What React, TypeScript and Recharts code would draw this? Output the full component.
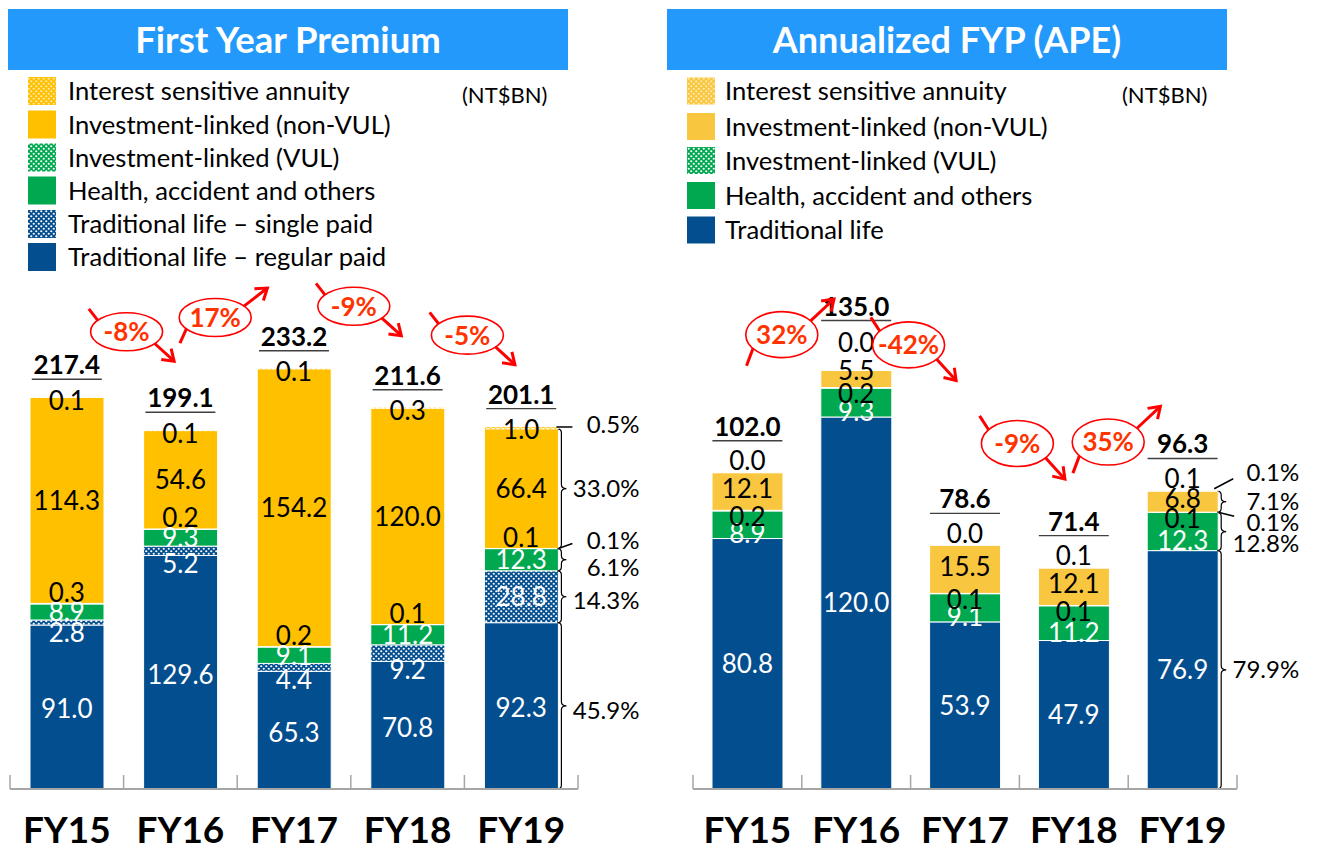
import React from 'react';
import { ComposedChart, Bar, Line, XAxis, YAxis } from 'recharts';

const FONT = "Lato, 'Open Sans', 'DejaVu Sans', sans-serif";
const BLUE = '#034E8E';
const GREEN = '#00A84F';
const YELLOW_L = '#FFC000';
const YELLOW_R = '#F9C640';

// ---------- data ----------
const years = ['FY15', 'FY16', 'FY17', 'FY18', 'FY19'];

// First Year Premium (NT$BN), bottom -> top of the stack
const fypRegular = [91.0, 129.6, 65.3, 70.8, 92.3];
const fypSingle = [2.8, 5.2, 4.4, 9.2, 28.8];
const fypHealth = [8.9, 9.3, 9.1, 11.2, 12.3];
const fypVul = [0.3, 0.2, 0.2, 0.1, 0.1];
const fypNonVul = [114.3, 54.6, 154.2, 120.0, 66.4];
const fypAnnuity = [0.1, 0.1, 0.1, 0.3, 1.0];
const fypTotals = [217.4, 199.1, 233.2, 211.6, 201.1];
const fypGrowth = [-8, 17, -9, -5];
const fypShareFY19 = [45.9, 14.3, 6.1, 0.1, 33.0, 0.5];

// Annualized FYP (APE)
const apeTraditional = [80.8, 120.0, 53.9, 47.9, 76.9];
const apeHealth = [8.9, 9.3, 9.1, 11.2, 12.3];
const apeVul = [0.2, 0.2, 0.1, 0.1, 0.1];
const apeNonVul = [12.1, 5.5, 15.5, 12.1, 6.8];
const apeAnnuity = [0.0, 0.0, 0.0, 0.1, 0.1];
const apeTotals = [102.0, 135.0, 78.6, 71.4, 96.3];
const apeGrowth = [32, -42, -9, 35];
const apeShareFY19 = [79.9, 12.8, 0.1, 7.1, 0.1];

const fypLegendNames = [
  'Interest sensitive annuity',
  'Investment-linked (non-VUL)',
  'Investment-linked (VUL)',
  'Health, accident and others',
  'Traditional life – single paid',
  'Traditional life – regular paid',
];
const apeLegendNames = [
  'Interest sensitive annuity',
  'Investment-linked (non-VUL)',
  'Investment-linked (VUL)',
  'Health, accident and others',
  'Traditional life',
];

// ---------- style configs ----------
type At = 'center' | 'top' | 'bottom';
type Rule = { at: At; dy: number };
type SeriesCfg = {
  values: number[];
  fill: string;
  dash?: string;
  labelColor: string;
  label: Rule;
  small?: { max: number } & Rule;
  crowded?: Rule;
  bracket: { kind: 'brace' | 'tick'; at: At; dy: number; tick?: number[] };
};

function Patterns({ p, yellow }: { p: string; yellow: string }) {
  return (
    <defs>
      <pattern id={p + 'blue'} width="5" height="5" patternUnits="userSpaceOnUse">
        <rect width="5" height="5" fill={BLUE} />
        <circle cx="1.25" cy="1.25" r="1.1" fill="#fff" />
        <circle cx="3.75" cy="3.75" r="1.1" fill="#fff" />
      </pattern>
      <pattern id={p + 'green'} width="5" height="5" patternUnits="userSpaceOnUse">
        <rect width="5" height="5" fill={GREEN} />
        <circle cx="1.25" cy="1.25" r="1.1" fill="#fff" />
        <circle cx="3.75" cy="3.75" r="1.1" fill="#fff" />
      </pattern>
      <pattern id={p + 'yellow'} width="5" height="5" patternUnits="userSpaceOnUse">
        <rect width="5" height="5" fill={yellow} />
        <circle cx="1.25" cy="1.25" r="1.1" fill="#FFE9A8" />
        <circle cx="3.75" cy="3.75" r="1.1" fill="#FFE9A8" />
      </pattern>
    </defs>
  );
}

const fypSeries: SeriesCfg[] = [
  { values: fypRegular, fill: BLUE, labelColor: '#fff', label: { at: 'center', dy: 2 }, bracket: { kind: 'brace', at: 'center', dy: 5 } },
  { values: fypSingle, fill: 'url(#fblue)', labelColor: '#fff', label: { at: 'center', dy: 0 }, small: { max: 15, at: 'bottom', dy: 8 }, bracket: { kind: 'brace', at: 'center', dy: 4 } },
  { values: fypHealth, fill: GREEN, labelColor: '#fff', label: { at: 'center', dy: 0 }, bracket: { kind: 'brace', at: 'bottom', dy: -3 } },
  { values: fypVul, fill: 'url(#fgreen)', labelColor: '#000', label: { at: 'top', dy: -11 }, bracket: { kind: 'tick', at: 'top', dy: -8, tick: [0, 0, 14, -5] } },
  { values: fypNonVul, fill: YELLOW_L, labelColor: '#000', label: { at: 'center', dy: 0 }, bracket: { kind: 'brace', at: 'center', dy: 0 } },
  { values: fypAnnuity, fill: 'url(#fyellow)', dash: '3 2', labelColor: '#000', label: { at: 'top', dy: 3 }, bracket: { kind: 'tick', at: 'top', dy: -3, tick: [-2, 0, 14, 0] } },
];

const apeSeries: SeriesCfg[] = [
  { values: apeTraditional, fill: BLUE, labelColor: '#fff', label: { at: 'center', dy: 0 }, bracket: { kind: 'brace', at: 'center', dy: 0 } },
  { values: apeHealth, fill: GREEN, labelColor: '#fff', label: { at: 'center', dy: 9 }, bracket: { kind: 'brace', at: 'center', dy: 12 } },
  { values: apeVul, fill: 'url(#agreen)', labelColor: '#000', label: { at: 'top', dy: 6 }, bracket: { kind: 'tick', at: 'top', dy: 10, tick: [0, 0, 16, 4] } },
  { values: apeNonVul, fill: YELLOW_R, labelColor: '#000', label: { at: 'center', dy: -3 }, crowded: { at: 'top', dy: 0 }, bracket: { kind: 'brace', at: 'center', dy: 0 } },
  { values: apeAnnuity, fill: 'url(#ayellow)', labelColor: '#000', label: { at: 'top', dy: -12 }, crowded: { at: 'top', dy: -28 }, bracket: { kind: 'tick', at: 'top', dy: -18, tick: [-4, -2, 15, -12] } },
];

type Panel = {
  p: string;
  yellow: string;
  left: number;
  width: number;
  height: number;
  margin: { top: number; right: number; bottom: number; left: number };
  domainMax: number;
  barSize: number;
  series: SeriesCfg[];
  totals: number[];
  growth: number[];
  shares: number[];
  totalGap: number;
  crowd?: { series: number; max: number; totalGap: number };
  bubble: { dxPos: number; dxNeg: number; dy: number; signShift: number; rx: number; ry: number };
};

const fypPanel: Panel = {
  p: 'f', yellow: YELLOW_L, left: 0, width: 660, height: 850,
  margin: { top: 338.5, right: 82, bottom: 11, left: 10 },
  domainMax: 250, barSize: 74,
  series: fypSeries, totals: fypTotals, growth: fypGrowth, shares: fypShareFY19,
  totalGap: 18,
  bubble: { dxPos: -22, dxNeg: 3, dy: -82, signShift: 0, rx: 36, ry: 19 },
};

const apePanel: Panel = {
  p: 'a', yellow: YELLOW_R, left: 660, width: 660, height: 850,
  margin: { top: 324, right: 83, bottom: 11, left: 33 },
  domainMax: 150, barSize: 71,
  series: apeSeries, totals: apeTotals, growth: apeGrowth, shares: apeShareFY19,
  totalGap: 32,
  crowd: { series: 3, max: 6, totalGap: 50 },
  bubble: { dxPos: -20, dxNeg: -2, dy: -100, signShift: 13, rx: 36, ry: 23 },
};

// ---------- helpers ----------
const VAL_FS = 26;
const PCT_FS = 24;

function pickLabel(s: SeriesCfg, v: number, crowded: boolean): Rule {
  if (crowded && s.crowded) return s.crowded;
  if (s.small && v < s.small.max) return s.small;
  return s.label;
}

function anchorOf(at: At, c: number, v: number) {
  if (at === 'center') return c + v / 2;
  if (at === 'top') return c + v;
  return c;
}

function Bubble({ x, y, g, rx, ry }: { x: number; y: number; g: number; rx: number; ry: number }) {
  const red = '#FF0000';
  const neg = g < 0;
  let t1: number[], t2: number[], a1: number[], a2: number[];
  if (neg) {
    t1 = [x - rx * 1.05, y - ry * 1.2];
    t2 = [x - rx * 0.8, y - ry * 0.6];
    a1 = [x + rx * 0.78, y + ry * 0.62];
    a2 = [x + rx * 1.32, y + ry * 1.55];
  } else {
    t1 = [x - rx * 0.98, y + ry * 1.35];
    t2 = [x - rx * 0.8, y + ry * 0.6];
    a1 = [x + rx * 0.8, y - ry * 0.6];
    a2 = [x + rx * 1.45, y - ry * 1.55];
  }
  const dx = a2[0] - a1[0];
  const dy = a2[1] - a1[1];
  const L = Math.hypot(dx, dy);
  const ux = dx / L;
  const uy = dy / L;
  const hl = 13;
  const ang = 0.6;
  const rot = (a: number) => [
    a2[0] - hl * (ux * Math.cos(a) - uy * Math.sin(a)),
    a2[1] - hl * (ux * Math.sin(a) + uy * Math.cos(a)),
  ];
  const h1 = rot(ang);
  const h2 = rot(-ang);
  return (
    <g>
      <line x1={t1[0]} y1={t1[1]} x2={t2[0]} y2={t2[1]} stroke={red} strokeWidth={3} />
      <line x1={a1[0]} y1={a1[1]} x2={a2[0]} y2={a2[1]} stroke={red} strokeWidth={3} />
      <polyline points={`${h1[0]},${h1[1]} ${a2[0]},${a2[1]} ${h2[0]},${h2[1]}`} fill="none" stroke={red} strokeWidth={3} />
      <ellipse cx={x} cy={y} rx={rx} ry={ry} fill="#fff" stroke={red} strokeWidth={1.6} />
      <text x={x} y={y + 0.36 * 26} textAnchor="middle" fill="#FF3300" fontFamily={FONT} fontWeight={700} fontSize={26}>
        {`${g}%`}
      </text>
    </g>
  );
}

function bracketEl(s: SeriesCfg, x: number, y: number, w: number, h: number, share: number) {
  const xr = x + w;
  const top = y;
  const bot = y + h;
  const mid = (top + bot) / 2;
  const b = s.bracket;
  const ty = (b.at === 'center' ? mid : b.at === 'top' ? top : bot) + b.dy;
  let mark: React.ReactNode = null;
  if (b.kind === 'brace') {
    const r = Math.min(4, h / 4);
    const d = `M ${xr - 1} ${top} Q ${xr + 3} ${top} ${xr + 3} ${top + r} L ${xr + 3} ${mid - r} Q ${xr + 3} ${mid} ${xr + 8} ${mid} Q ${xr + 3} ${mid} ${xr + 3} ${mid + r} L ${xr + 3} ${bot - r} Q ${xr + 3} ${bot} ${xr - 1} ${bot}`;
    mark = <path d={d} fill="none" stroke="#000" strokeWidth={1.2} />;
  } else if (b.tick) {
    const t = b.tick;
    mark = <line x1={xr + t[0]} y1={top + t[1]} x2={xr + t[2]} y2={top + t[3]} stroke="#000" strokeWidth={1.5} />;
  }
  return (
    <g>
      {mark}
      <text x={xr + 81} y={ty + 0.36 * PCT_FS} textAnchor="end" fontFamily={FONT} fontSize={PCT_FS} fill="#000">
        {`${share.toFixed(1)}%`}
      </text>
    </g>
  );
}

function PanelChart({ panel }: { panel: Panel }) {
  const n = years.length;
  const plotW = panel.width - panel.margin.left - panel.margin.right;
  const halfBand = plotW / n / 2;
  const rows = years.map((year, i) => {
    const row: any = { year, total: panel.totals[i] };
    let cum = 0;
    panel.series.forEach((s, k) => {
      row['c' + k] = cum;
      row['s' + k] = s.values[i];
      cum += s.values[i];
    });
    row.crowded = panel.crowd ? panel.series[panel.crowd.series].values[i] < panel.crowd.max : false;
    row.bubble = i < n - 1 ? (panel.totals[i] + panel.totals[i + 1]) / 2 : null;
    row.growth = i < n - 1 ? panel.growth[i] : null;
    return row;
  });

  const tick = (props: any) => {
    const { x, y, payload } = props;
    const idx = years.indexOf(payload.value);
    return (
      <g>
        <line x1={x - halfBand} x2={x - halfBand} y1={y - 14} y2={y} stroke="#A6A6A6" strokeWidth={1.5} />
        {idx === n - 1 && <line x1={x + halfBand} x2={x + halfBand} y1={y - 14} y2={y} stroke="#A6A6A6" strokeWidth={1.5} />}
        <text x={x} y={y + 54} textAnchor="middle" fontFamily={FONT} fontWeight={700} fontSize={37} fill="#000">
          {payload.value}
        </text>
      </g>
    );
  };

  const shapeFor = (s: SeriesCfg, k: number) => (props: any) => {
    const { x, y, width, height } = props;
    const idx = props.payload && props.payload.year ? years.indexOf(props.payload.year) : props.index;
    return (
      <g>
        {height > 0.01 && (
          <rect x={x} y={y} width={width} height={height} fill={s.fill} stroke="#fff" strokeWidth={1} strokeDasharray={s.dash} />
        )}
        {idx === n - 1 && bracketEl(s, x, y, width, height, panel.shares[k])}
      </g>
    );
  };

  const labelDot = (s: SeriesCfg, k: number) => (p: any) => {
    const { cx, cy, payload } = p;
    if (cx == null || cy == null || isNaN(cy)) return <g />;
    const v = payload['s' + k];
    const L = pickLabel(s, v, payload.crowded);
    return (
      <text x={cx} y={cy + L.dy + 0.36 * VAL_FS} textAnchor="middle" fontFamily={FONT} fontSize={VAL_FS} fill={s.labelColor}>
        {v.toFixed(1)}
      </text>
    );
  };

  const totalDot = (p: any) => {
    const { cx, cy, payload } = p;
    if (cx == null || cy == null || isNaN(cy)) return <g />;
    const gap = payload.crowded && panel.crowd ? panel.crowd.totalGap : panel.totalGap;
    const uy = cy - gap;
    return (
      <g>
        <line x1={cx - 35} x2={cx + 35} y1={uy} y2={uy} stroke="#404040" strokeWidth={1.4} />
        <text x={cx} y={uy - 5} textAnchor="middle" fontFamily={FONT} fontWeight={700} fontSize={26} fill="#000">
          {payload.total.toFixed(1)}
        </text>
      </g>
    );
  };

  const bubbleDot = (p: any) => {
    const { cx, cy, payload } = p;
    if (cx == null || cy == null || isNaN(cy) || payload.growth == null) return <g />;
    const g = payload.growth;
    const bb = panel.bubble;
    return (
      <Bubble
        x={cx + halfBand + (g > 0 ? bb.dxPos : bb.dxNeg)}
        y={cy + bb.dy + (g > 0 ? bb.signShift : -bb.signShift)}
        g={g}
        rx={bb.rx}
        ry={bb.ry}
      />
    );
  };

  return (
    <div style={{ position: 'absolute', left: panel.left, top: 0 }}>
      <ComposedChart width={panel.width} height={panel.height} data={rows} margin={panel.margin} barSize={panel.barSize}>
        <Patterns p={panel.p} yellow={panel.yellow} />
        <XAxis
          dataKey="year"
          type="category"
          height={50}
          interval={0}
          tickSize={0}
          tickMargin={0}
          tickLine={false}
          axisLine={{ stroke: '#A6A6A6', strokeWidth: 2 }}
          tick={tick}
        />
        <YAxis hide domain={[0, panel.domainMax]} />
        {panel.series.map((s, k) => (
          <Bar key={'b' + k} dataKey={'s' + k} stackId="stack" fill={s.fill} isAnimationActive={false} shape={shapeFor(s, k)} />
        ))}
        {panel.series.map((s, k) => (
          <Line
            key={'l' + k}
            dataKey={(row: any) => anchorOf(pickLabel(s, row['s' + k], row.crowded).at, row['c' + k], row['s' + k])}
            stroke="none"
            isAnimationActive={false}
            dot={labelDot(s, k)}
            activeDot={false}
            legendType="none"
          />
        ))}
        <Line dataKey="total" stroke="none" isAnimationActive={false} dot={totalDot} activeDot={false} legendType="none" />
        <Line dataKey="bubble" stroke="none" isAnimationActive={false} dot={bubbleDot} activeDot={false} legendType="none" />
      </ComposedChart>
    </div>
  );
}

function Overlay() {
  const fypFills = ['url(#oyellowL)', YELLOW_L, 'url(#ogreen)', GREEN, 'url(#oblue)', BLUE];
  const apeFills = ['url(#oyellowR)', YELLOW_R, 'url(#ogreen)', GREEN, BLUE];
  const fypRows = [91, 124.5, 157.5, 190.5, 224, 257];
  const apeRows = [91, 126.5, 160.5, 195.5, 230];
  const LFS = 25.6;
  return (
    <svg width={1320} height={850} style={{ position: 'absolute', left: 0, top: 0 }}>
      <defs>
        <pattern id="oblue" width="5" height="5" patternUnits="userSpaceOnUse">
          <rect width="5" height="5" fill={BLUE} />
          <circle cx="1.25" cy="1.25" r="1.1" fill="#fff" />
          <circle cx="3.75" cy="3.75" r="1.1" fill="#fff" />
        </pattern>
        <pattern id="ogreen" width="5" height="5" patternUnits="userSpaceOnUse">
          <rect width="5" height="5" fill={GREEN} />
          <circle cx="1.25" cy="1.25" r="1.1" fill="#fff" />
          <circle cx="3.75" cy="3.75" r="1.1" fill="#fff" />
        </pattern>
        <pattern id="oyellowL" width="5" height="5" patternUnits="userSpaceOnUse">
          <rect width="5" height="5" fill={YELLOW_L} />
          <circle cx="1.25" cy="1.25" r="1.1" fill="#FFEBB0" />
          <circle cx="3.75" cy="3.75" r="1.1" fill="#FFEBB0" />
        </pattern>
        <pattern id="oyellowR" width="5" height="5" patternUnits="userSpaceOnUse">
          <rect width="5" height="5" fill={YELLOW_R} />
          <circle cx="1.25" cy="1.25" r="1.1" fill="#FFEBB0" />
          <circle cx="3.75" cy="3.75" r="1.1" fill="#FFEBB0" />
        </pattern>
      </defs>
      <rect x={8} y={9} width={560} height={61} fill="#2399FB" />
      <text x={288} y={53} textAnchor="middle" fill="#fff" fontFamily={FONT} fontWeight={700} fontSize={36.5}>
        First Year Premium
      </text>
      <rect x={667} y={9} width={560} height={61} fill="#2399FB" />
      <text x={947} y={53} textAnchor="middle" fill="#fff" fontFamily={FONT} fontWeight={700} fontSize={36}>
        Annualized FYP (APE)
      </text>
      {fypLegendNames.map((name, k) => (
        <g key={'fl' + k}>
          <rect x={28} y={fypRows[k] - 14} width={28} height={28} fill={fypFills[k]} />
          <text x={68} y={fypRows[k] + 0.36 * LFS} fontFamily={FONT} fontSize={LFS} fill="#000">
            {name}
          </text>
        </g>
      ))}
      <text x={462} y={103} fontFamily={FONT} fontSize={22} fill="#000">(NT$BN)</text>
      {apeLegendNames.map((name, k) => (
        <g key={'al' + k}>
          <rect x={687} y={apeRows[k] - 13.5} width={28} height={27} fill={apeFills[k]} />
          <text x={725} y={apeRows[k] + 0.36 * LFS} fontFamily={FONT} fontSize={LFS} fill="#000">
            {name}
          </text>
        </g>
      ))}
      <text x={1122} y={103} fontFamily={FONT} fontSize={22} fill="#000">(NT$BN)</text>
    </svg>
  );
}

export default function App() {
  return (
    <div style={{ position: 'absolute', left: 0, top: 0, width: 1320, height: 850, background: '#fff', overflow: 'hidden' }}>
      <Overlay />
      <PanelChart panel={fypPanel} />
      <PanelChart panel={apePanel} />
    </div>
  );
}
